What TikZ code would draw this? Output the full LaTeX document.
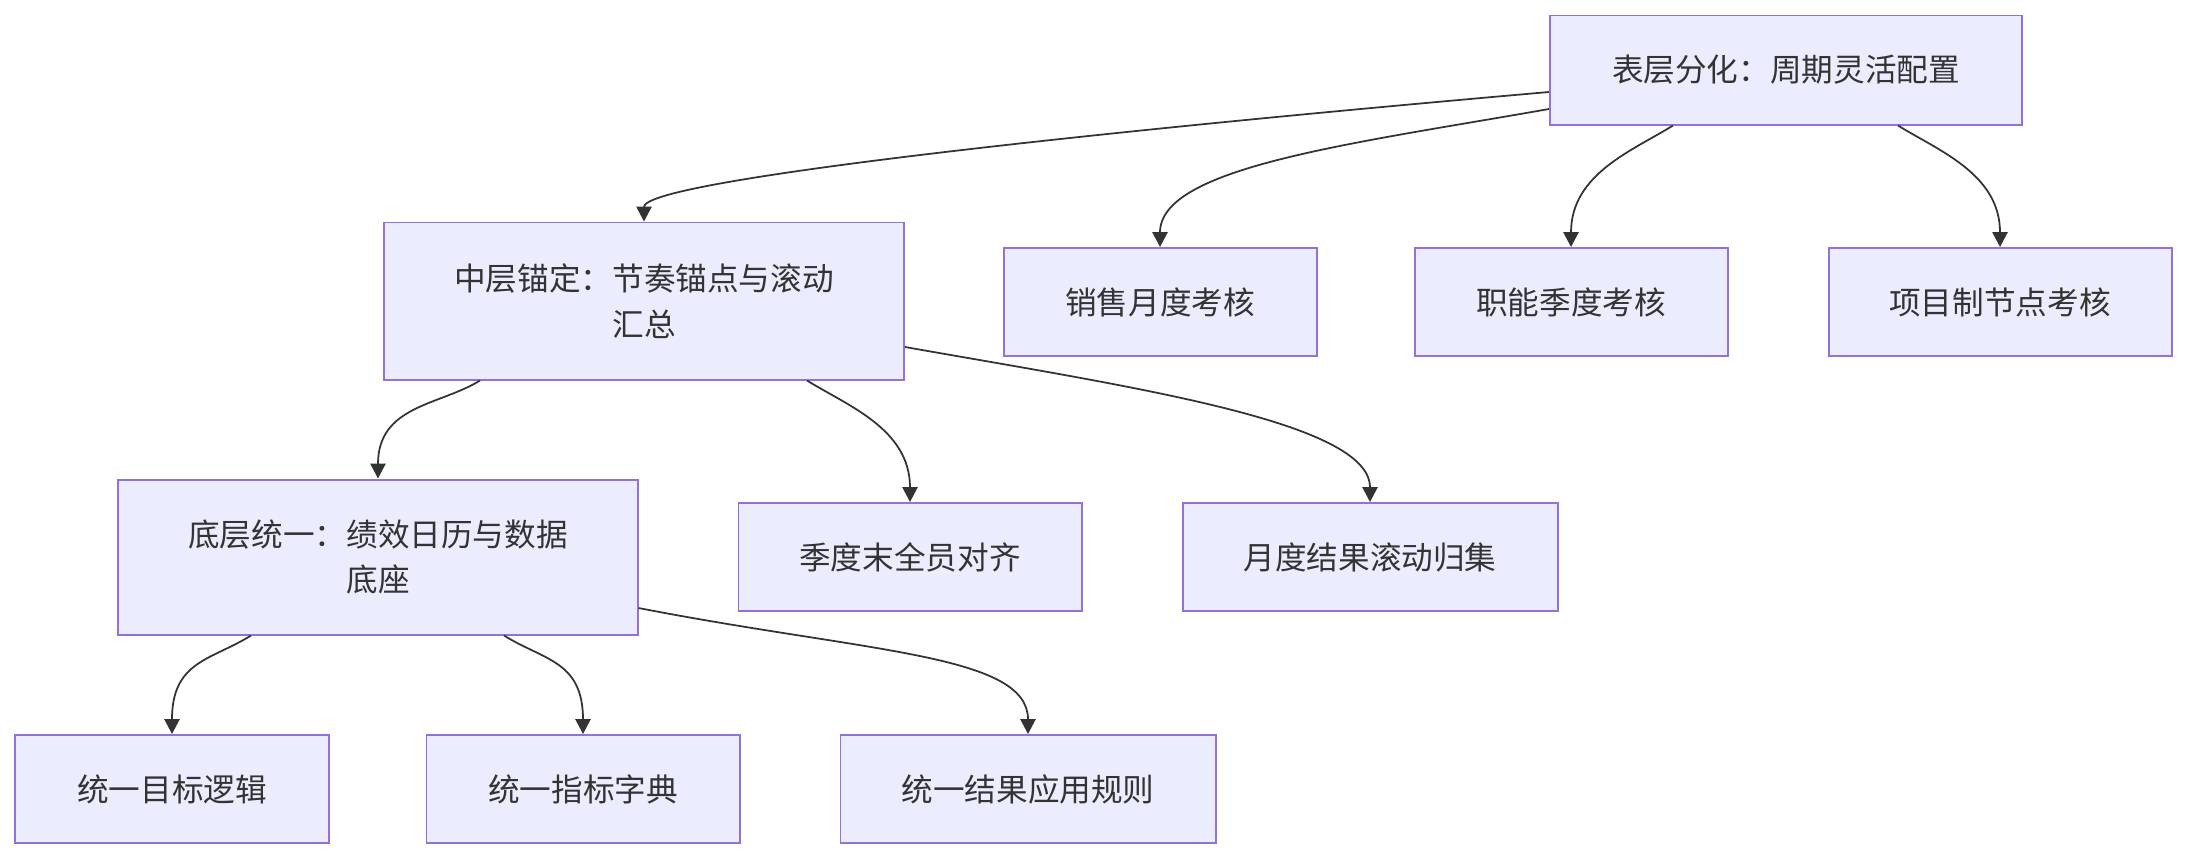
\documentclass[tikz,border=0pt]{standalone}
\usepackage{fontspec}
\setmainfont{Noto Sans CJK SC}
\definecolor{mmfill}{HTML}{ECECFF}
\definecolor{mmstroke}{HTML}{9370DB}
\definecolor{mmline}{HTML}{333333}
\usetikzlibrary{arrows.meta,positioning}

\begin{document}
\begin{tikzpicture}[x=0.03cm, y=-0.03cm,
  layerbox/.style={draw=mmstroke, line width=1.7pt, fill=mmfill, inner sep=0pt,
    minimum height=3.24cm, align=center, text=mmline,
    font=\fontsize{27}{39}\selectfont},
  flow/.style={-{Triangle[length=0.45cm, width=0.46cm]}, mmline, line width=1.5pt}]

\useasboundingbox (0,0) rectangle (2188,860);

% Top layer
\node[layerbox, minimum width=14.16cm, minimum height=3.27cm] (top) at (1786,70) {表层分化：周期灵活配置};

\node[layerbox, minimum width=15.6cm, minimum height=4.71cm] (mid) at (644,301) {中层锚定：节奏锚点与滚动\\汇总};
\node[layerbox, minimum width=9.39cm] (sales) at (1160,302) {销售月度考核};
\node[layerbox, minimum width=9.39cm] (func) at (1571,302) {职能季度考核};
\node[layerbox, minimum width=10.29cm] (proj) at (2000,302) {项目制节点考核};

% Middle layer
\node[layerbox, minimum width=15.57cm, minimum height=4.65cm] (base) at (378,557) {底层统一：绩效日历与数据\\底座};
\node[layerbox, minimum width=10.29cm] (quarter) at (910,557) {季度末全员对齐};
\node[layerbox, minimum width=11.25cm] (monthly) at (1370,557) {月度结果滚动归集};

% Bottom layer
\node[layerbox, minimum width=9.39cm] (goal) at (172,789) {统一目标逻辑};
\node[layerbox, minimum width=9.39cm] (dict) at (583,789) {统一指标字典};
\node[layerbox, minimum width=11.25cm] (rule) at (1028,789) {统一结果应用规则};

\draw[flow] ([yshift=-0.66cm]top.west) to[out=185, in=90, out distance=15cm, in distance=1.2cm] (mid.north);
\draw[flow] ([yshift=-1.17cm]top.west) to[out=190, in=90, out distance=6cm, in distance=2.4cm] (sales.north);
\draw[flow] ([xshift=-3.39cm]top.south) to[out=212, in=90, out distance=1.4cm, in distance=2.2cm] (func.north);
\draw[flow] ([xshift=3.36cm]top.south) to[out=-32, in=90, out distance=1.4cm, in distance=2.2cm] (proj.north);

\draw[flow] ([xshift=-4.92cm]mid.south) to[out=212, in=90, out distance=1.4cm, in distance=2.2cm] (base.north);
\draw[flow] ([xshift=4.89cm]mid.south) to[out=-32, in=90, out distance=1.4cm, in distance=2.2cm] (quarter.north);
\draw[flow] ([yshift=-1.38cm]mid.east) to[out=-10, in=90, out distance=7cm, in distance=2.4cm] (monthly.north);

\draw[flow] ([xshift=-3.81cm]base.south) to[out=212, in=90, out distance=1.4cm, in distance=2.2cm] (goal.north);
\draw[flow] ([xshift=3.78cm]base.south) to[out=-32, in=90, out distance=1.4cm, in distance=2.2cm] (dict.north);
\draw[flow] ([yshift=-1.53cm]base.east) to[out=-11, in=90, out distance=7cm, in distance=2.4cm] (rule.north);

\end{tikzpicture}
\end{document}
